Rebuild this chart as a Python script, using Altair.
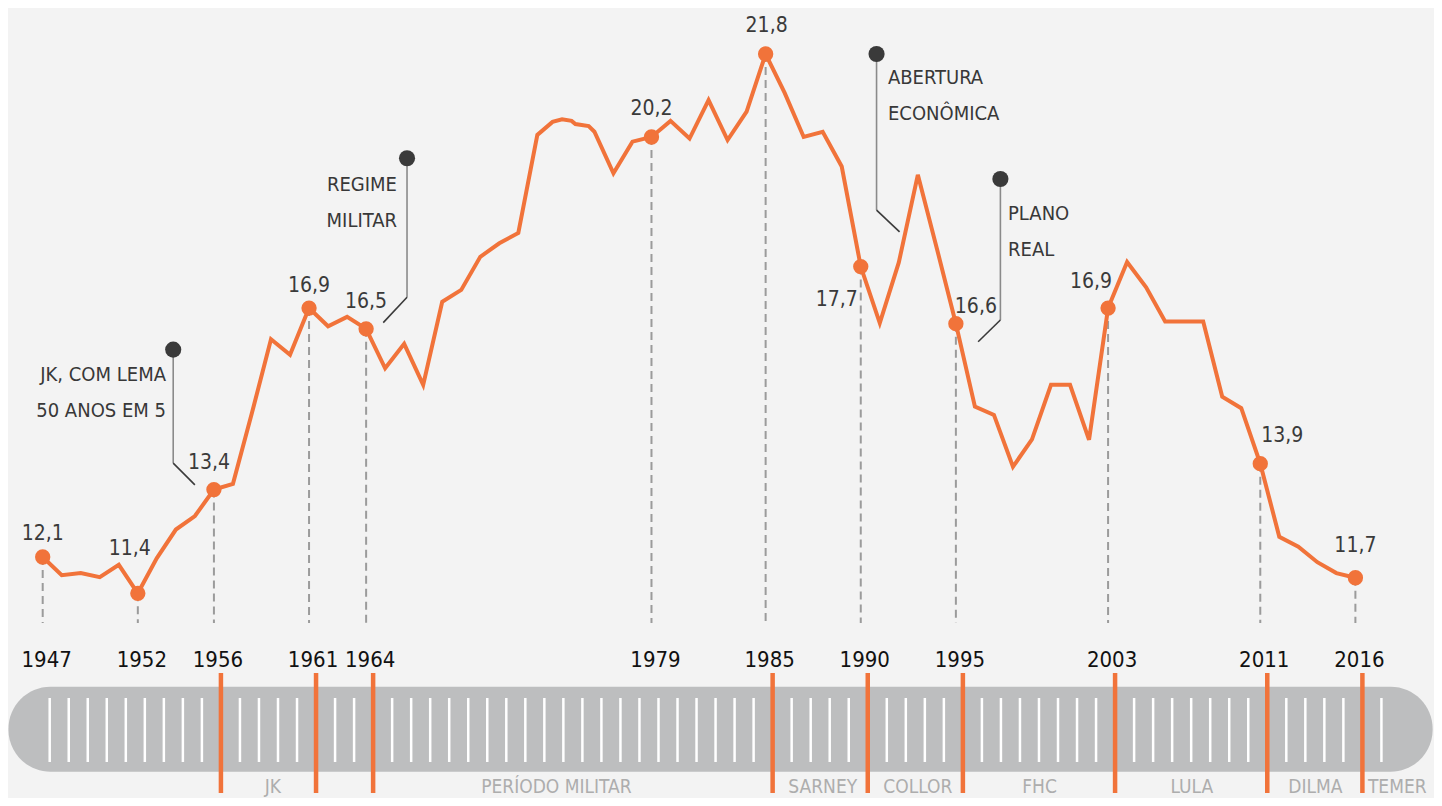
import altair as alt
import pandas as pd

# ---- data -----------------------------------------------------------------
years = [1947, 1948, 1949, 1950, 1951, 1952, 1953, 1954, 1955, 1956, 1957, 1958,
         1959, 1960, 1961, 1962, 1963, 1964, 1965, 1966, 1967, 1968, 1969, 1970,
         1971, 1972, 1973, 1973.8, 1974.3, 1974.8, 1975, 1975.7, 1976, 1977, 1978,
         1979, 1980, 1981, 1982, 1983, 1984, 1985, 1986, 1987, 1988, 1989, 1990,
         1991, 1992, 1993, 1994, 1995, 1996, 1997, 1998, 1999, 2000, 2001, 2002,
         2003, 2004, 2005, 2006, 2007, 2008, 2009, 2010, 2011, 2012, 2013, 2014,
         2015, 2016]
values = [12.1, 11.75, 11.79, 11.71, 11.95, 11.4, 12.08, 12.63, 12.89, 13.4, 13.51, 14.88,
          16.30, 16.0, 16.9, 16.55, 16.73, 16.5, 15.74, 16.21, 15.42, 17.02, 17.25, 17.89,
          18.15, 18.35, 20.24, 20.49, 20.54, 20.51, 20.45, 20.41, 20.30, 19.5, 20.11,
          20.2, 20.51, 20.17, 20.91, 20.14, 20.69, 21.8, 21.05, 20.2, 20.3, 19.63, 17.7,
          16.61, 17.78, 19.47, 18.05, 16.6, 15.0, 14.84, 13.84, 14.37, 15.42, 15.42, 14.36,
          16.9, 17.79, 17.3, 16.64, 16.64, 16.64, 15.19, 14.97, 13.9, 12.49, 12.3, 12.0,
          11.79, 11.7]

key_years = [1947, 1952, 1956, 1961, 1964, 1979, 1985, 1990, 1995, 2003, 2011, 2016]
gov_years = [1956, 1961, 1964, 1985, 1990, 1995, 2003, 2011, 2016]
tick_years = list(range(1947, 2018))

era_names = ["JK", "PERÍODO MILITAR", "SARNEY", "COLLOR", "FHC", "LULA", "DILMA", "TEMER"]
era_centers = [1959.1, 1974.0, 1988.0, 1993.0, 1999.4, 2007.4, 2013.9, 2018.2]

ann_text = ["JK, COM LEMA\n50 ANOS EM 5", "REGIME\nMILITAR", "ABERTURA\nECONÔMICA", "PLANO\nREAL"]
ann_dot_year = [1953.86, 1966.15, 1990.83, 1997.34]
ann_dot_value = [16.10, 19.79, 21.80, 19.39]
ann_bend_value = [13.91, 17.11, 18.79, 16.67]
ann_end_year = [1955.0, 1964.9, 1992.04, 1996.17]
ann_end_value = [13.49, 16.62, 18.37, 16.25]
ann_text_year = [1953.48, 1965.62, 1991.43, 1997.74]
ann_text_value = [15.80, 19.47, 21.53, 18.90]
ann_side = ["right", "right", "left", "left"]

timeline_start = [1945.2]
timeline_end = [2020.06]

# ---- layout / style --------------------------------------------------------
ORANGE = "#f1733a"
DARK = "#3a3a3a"
FONT = "'Liberation Sans Narrow', 'DejaVu Sans Condensed', 'Roboto Condensed', sans-serif"
W, H = 1426, 790

label_offsets = {1947: (0, -17), 1952: (-8, -38), 1956: (-5, -21), 1961: (0, -16),
                 1964: (0, -21), 1979: (0, -22), 1985: (1, -22), 1990: (-24, 39),
                 1995: (20, -11), 2003: (-17, -20), 2011: (22, -22), 2016: (0, -26)}

X = alt.Scale(domain=[1947, 2016], range=[34.7, 1347.4], nice=False, zero=False)
Y = alt.Scale(domain=[11.4, 21.8], range=[585.3, 46.0], nice=False, zero=False)

df = pd.DataFrame({"year": years, "value": values})
key_df = df[df["year"].isin(key_years)].copy()
key_df["label"] = key_df["value"].map(lambda v: f"{v:.1f}".replace(".", ","))
key_df["ylabel"] = key_df["year"].map(lambda y: str(int(y)))

ticks_df = pd.DataFrame({"year": [y for y in tick_years if y not in gov_years]})
gov_df = pd.DataFrame({"year": gov_years})
era_df = pd.DataFrame({"name": era_names, "year": era_centers})
tl_df = pd.DataFrame({"start": timeline_start, "end": timeline_end})
ann_df = pd.DataFrame({
    "text": ann_text, "dy": ann_dot_year, "dv": ann_dot_value, "bv": ann_bend_value,
    "ey": ann_end_year, "ev": ann_end_value, "ty": ann_text_year, "tv": ann_text_value,
    "side": ann_side,
})

xe = lambda f: alt.X(f, scale=X, axis=None)
ye = lambda f: alt.Y(f, scale=Y, axis=None)

layers = []

# timeline bar
layers.append(alt.Chart(tl_df).mark_rect(cornerRadius=42, color="#bdbebf").encode(
    x=xe("start:Q"), x2="end:Q", y=alt.value(678.7), y2=alt.value(763.7)))
layers.append(alt.Chart(ticks_df).mark_rule(color="white", strokeWidth=2.5, xOffset=7).encode(
    x=xe("year:Q"), y=alt.value(690), y2=alt.value(754)))
layers.append(alt.Chart(gov_df).mark_rule(color=ORANGE, strokeWidth=4.5, xOffset=7).encode(
    x=xe("year:Q"), y=alt.value(665), y2=alt.value(785)))
layers.append(alt.Chart(era_df).mark_text(font=FONT, fontSize=19, color="#adadad",
                                          baseline="alphabetic", align="center").encode(
    x=xe("year:Q"), y=alt.value(785), text="name:N"))

# dashed drop lines
layers.append(alt.Chart(key_df).mark_rule(color="#9b9b9b", strokeWidth=2, strokeDash=[8, 5]).encode(
    x=xe("year:Q"), y=ye("value:Q"), y2=alt.value(615)))

# year labels
layers.append(alt.Chart(key_df).mark_text(font=FONT, fontSize=22, color="#111111", dx=4,
                                          baseline="alphabetic", align="center").encode(
    x=xe("year:Q"), y=alt.value(659), text="ylabel:N"))

# annotation leaders
layers.append(alt.Chart(ann_df).mark_rule(color="#8a8a8a", strokeWidth=1.6).encode(
    x=xe("dy:Q"), y=ye("dv:Q"), y2="bv:Q"))
layers.append(alt.Chart(ann_df).mark_rule(color="#3a3a3a", strokeWidth=1.6).encode(
    x=xe("dy:Q"), x2="ey:Q", y=ye("bv:Q"), y2="ev:Q"))
layers.append(alt.Chart(ann_df).mark_circle(size=260, color=DARK, opacity=1).encode(
    x=xe("dy:Q"), y=ye("dv:Q")))
for side in ["right", "left"]:
    layers.append(alt.Chart(ann_df[ann_df["side"] == side]).mark_text(
        font=FONT, fontSize=20, color="#383838", align=side, baseline="top",
        lineBreak="\n", lineHeight=36).encode(
        x=xe("ty:Q"), y=ye("tv:Q"), text="text:N"))

# main line and key points
layers.append(alt.Chart(df).mark_line(color=ORANGE, strokeWidth=4, strokeJoin="miter").encode(
    x=xe("year:Q"), y=ye("value:Q"), order="year:Q"))
layers.append(alt.Chart(key_df).mark_circle(size=235, color=ORANGE, opacity=1).encode(
    x=xe("year:Q"), y=ye("value:Q")))

for yr, (dx, dy) in label_offsets.items():
    layers.append(alt.Chart(key_df[key_df["year"] == yr]).mark_text(
        font=FONT, fontSize=21, color="#3a3a3a", dx=dx, dy=dy,
        baseline="alphabetic", align="center").encode(
        x=xe("year:Q"), y=ye("value:Q"), text="label:N"))

chart = alt.layer(*layers).properties(
    width=W, height=H, background="#f3f3f3",
    autosize=alt.AutoSizeParams(type="none"), padding=0,
).configure_view(stroke=None)

chart.save("out.html", embed_options={"renderer": "svg", "actions": False})
